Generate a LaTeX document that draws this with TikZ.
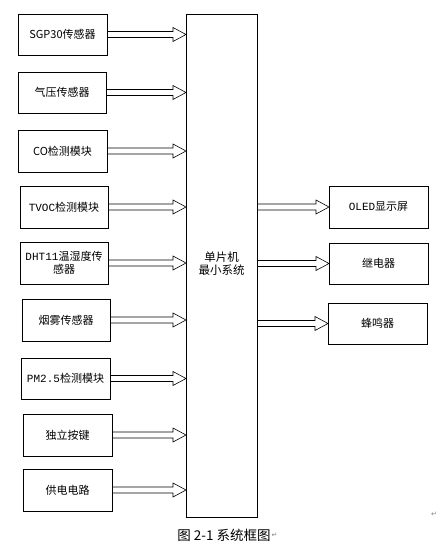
\documentclass[tikz,border=0pt]{standalone}
\usepackage{fontspec}
\setmainfont{Noto Sans CJK SC}
\newfontfamily\latmono{Liberation Mono}
\newfontfamily\symfont{DejaVu Sans}
\usetikzlibrary{calc}
\tikzset{
  box/.style={draw=black, line width=0.8pt, inner sep=0pt, outer sep=0pt, align=center,
    font=\fontsize{11}{13}\selectfont},
  arr/.style={draw=black, line width=0.6pt, line join=miter}
}
% block arrow from node #1 to node #2 at the height of node #3
\newcommand\barr[3]{%
  \coordinate (s) at (#1.east |- #3.center);
  \coordinate (t) at (#2.west |- #3.center);
  \draw[arr] ($(s)+(0,-3)$) -- ($(t)+(-13,-3)$) -- ($(t)+(-13,-7)$) -- (t)
    -- ($(t)+(-13,7)$) -- ($(t)+(-13,3)$) -- ($(s)+(0,3)$);}
\begin{document}
\begin{tikzpicture}[x=1pt, y=-1pt]
\useasboundingbox (0,0) rectangle (437,545);
\node[box, minimum width=89pt, minimum height=41pt] (sgp) at (62.5,34.5) {SGP30传感器};
\node[box, minimum width=88pt, minimum height=41pt] (qy) at (62,92.5) {气压传感器};
\node[box, minimum width=89pt, minimum height=42pt] (co) at (62.5,151) {CO检测模块};
\node[box, minimum width=88pt, minimum height=42pt] (tvoc) at (64,207) {{\latmono TVOC}检测模块};
\node[box, minimum width=88pt, minimum height=42pt] (dht) at (64,263) {{\latmono DHT11}温湿度传\\感器};
\node[box, minimum width=88pt, minimum height=42pt] (smoke) at (66,320) {烟雾传感器};
\node[box, minimum width=89pt, minimum height=41pt] (pm) at (65.5,378.5) {{\latmono PM2.5}检测模块};
\node[box, minimum width=89pt, minimum height=42pt] (key) at (67.5,435) {独立按键};
\node[box, minimum width=89pt, minimum height=42pt] (pwr) at (67.5,490) {供电电路};
\node[box, minimum width=71pt, minimum height=503pt] (mcu) at (221.5,265.5) {};
\node[align=center, font=\fontsize{11.5}{13.5}\selectfont] (mcut) at (221.5,263.5) {单片机\\最小系统};
\node[box, minimum width=99pt, minimum height=42pt] (oled) at (378.5,207) {{\latmono OLED}显示屏};
\node[box, minimum width=99pt, minimum height=41pt] (relay) at (378.5,263.5) {继电器};
\node[box, minimum width=99pt, minimum height=41pt] (buzz) at (377.5,323.5) {蜂鸣器};
\foreach \n in {sgp,qy,co,tvoc,dht,smoke,pm,key,pwr} {\barr{\n}{mcu}{\n}}
\foreach \n in {oled,relay,buzz} {\barr{mcu}{\n}{\n}}
\node[font=\fontsize{13.5}{15}\selectfont, inner sep=0pt] (cap) at (224,535) {图 2-1 系统框图};
\node[anchor=west, inner sep=0.5pt, text=gray, font=\symfont\fontsize{7}{8}\selectfont] (ret1) at (cap.east) {↵};
\node[inner sep=0pt, text=gray, font=\symfont\fontsize{7}{8}\selectfont] (ret2) at (434,514) {↵};
\end{tikzpicture}
\end{document}
